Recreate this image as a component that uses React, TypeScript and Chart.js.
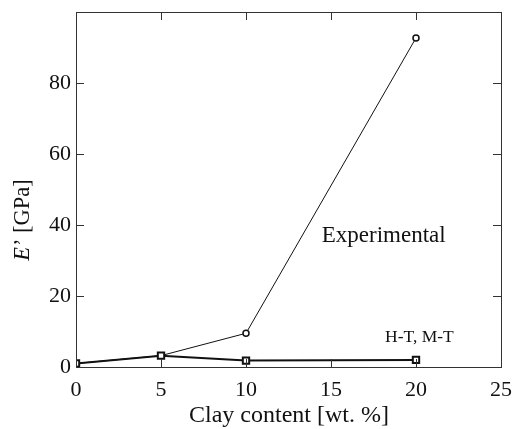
import React, { useEffect, useRef } from "react";
import { Chart, registerables } from "chart.js";

Chart.register(...registerables);

const clayContent = [0, 5, 10, 20];
const experimental = [1.0, 3.2, 9.5, 92.7];
const htmt = [1.0, 3.2, 1.8, 2.0];
const xTicks = [0, 5, 10, 15, 20, 25];
const yTicks = [0, 20, 40, 60, 80];

const FONT = "'Liberation Serif', 'Times New Roman', serif";

const framePlugin = {
  id: "frame",
  afterDraw(chart: any) {
    const { ctx, chartArea: a, scales } = chart;
    const x = scales.x;
    const y = scales.y;
    ctx.save();
    ctx.strokeStyle = "#333";
    ctx.lineWidth = 1;
    ctx.strokeRect(Math.round(a.left) + 0.5, Math.round(a.top) + 0.5, Math.round(a.right - a.left), Math.round(a.bottom - a.top));
    const tl = 8;
    ctx.beginPath();
    for (const v of xTicks) {
      const px = Math.round(x.getPixelForValue(v)) + 0.5;
      ctx.moveTo(px, a.bottom);
      ctx.lineTo(px, a.bottom - tl);
      ctx.moveTo(px, a.top);
      ctx.lineTo(px, a.top + tl);
    }
    for (const v of yTicks) {
      const py = Math.round(y.getPixelForValue(v)) + 0.5;
      ctx.moveTo(a.left, py);
      ctx.lineTo(a.left + tl, py);
      ctx.moveTo(a.right, py);
      ctx.lineTo(a.right - tl, py);
    }
    ctx.stroke();

    // annotations
    ctx.fillStyle = "#111";
    ctx.textBaseline = "middle";
    ctx.textAlign = "center";
    ctx.font = `23px ${FONT}`;
    ctx.fillText("Experimental", x.getPixelForValue(18.1), y.getPixelForValue(36.9));
    ctx.font = `17.5px ${FONT}`;
    ctx.fillText("H-T, M-T", x.getPixelForValue(20.2), y.getPixelForValue(8.4));

    // x title
    ctx.font = `24px ${FONT}`;
    ctx.fillText("Clay content [wt. %]", 289, 416);

    // y title with italic E
    ctx.save();
    ctx.translate(23, 220);
    ctx.rotate(-Math.PI / 2);
    ctx.textAlign = "left";
    const e = "E";
    const rest = "\u2019 [GPa]";
    ctx.font = `italic 22.5px ${FONT}`;
    const w1 = ctx.measureText(e).width;
    ctx.font = `22.5px ${FONT}`;
    const w2 = ctx.measureText(rest).width;
    const start = -(w1 + w2 + 1) / 2;
    ctx.font = `italic 22.5px ${FONT}`;
    ctx.fillText(e, start, 0);
    ctx.font = `22.5px ${FONT}`;
    ctx.fillText(rest, start + w1 + 1, 0);
    ctx.restore();
    ctx.restore();
  },
};

export default function App() {
  const ref = useRef<HTMLCanvasElement>(null);
  useEffect(() => {
    document.body.style.margin = "0";
    const chart = new Chart(ref.current!, {
      type: "scatter",
      data: {
        datasets: [
          {
            label: "H-T, M-T",
            data: clayContent.map((c, i) => ({ x: c, y: htmt[i] })),
            showLine: true,
            borderColor: "#111",
            borderWidth: 2,
            pointStyle: "rect",
            pointRadius: 4.5,
            pointBorderWidth: 2,
            pointBorderColor: "#111",
            pointBackgroundColor: "#fff",
            order: 1,
          },
          {
            label: "Experimental",
            data: clayContent.map((c, i) => ({ x: c, y: experimental[i] })),
            showLine: true,
            borderColor: "#111",
            borderWidth: 1,
            pointStyle: "circle",
            pointRadius: [0, 0, 3, 3],
            pointBorderWidth: 1.5,
            pointBorderColor: "#111",
            pointBackgroundColor: "#fff",
            order: 2,
          },
        ],
      },
      options: {
        animation: false,
        responsive: false,
        layout: { padding: { top: 12, right: 13, left: 0, bottom: 0 } },
        plugins: { legend: { display: false }, tooltip: { enabled: false } },
        scales: {
          x: {
            type: "linear",
            min: 0,
            max: 25,
            afterBuildTicks: (s: any) => {
              s.ticks = xTicks.map((v) => ({ value: v }));
            },
            afterFit: (s: any) => {
              s.height = 62;
              s.paddingLeft = 0;
              s.paddingRight = 0;
            },
            grid: { display: false },
            border: { display: false },
            ticks: {
              font: { family: FONT, size: 22 },
              color: "#111",
              padding: 2,
              maxRotation: 0,
            },
          },
          y: {
            type: "linear",
            min: 0,
            max: 100,
            afterBuildTicks: (s: any) => {
              s.ticks = yTicks.map((v) => ({ value: v }));
            },
            afterFit: (s: any) => {
              s.width = 76;
              s.paddingTop = 0;
              s.paddingBottom = 0;
            },
            grid: { display: false, drawTicks: false, tickLength: 0 },
            border: { display: false },
            ticks: {
              font: { family: FONT, size: 22 },
              color: "#111",
              padding: 5,
            },
          },
        },
      },
      plugins: [framePlugin],
    });
    return () => chart.destroy();
  }, []);
  return (
    <div style={{ position: "fixed", left: 0, top: 0, width: 514, height: 429, background: "#fff" }}>
      <canvas ref={ref} width={514} height={429} />
    </div>
  );
}
